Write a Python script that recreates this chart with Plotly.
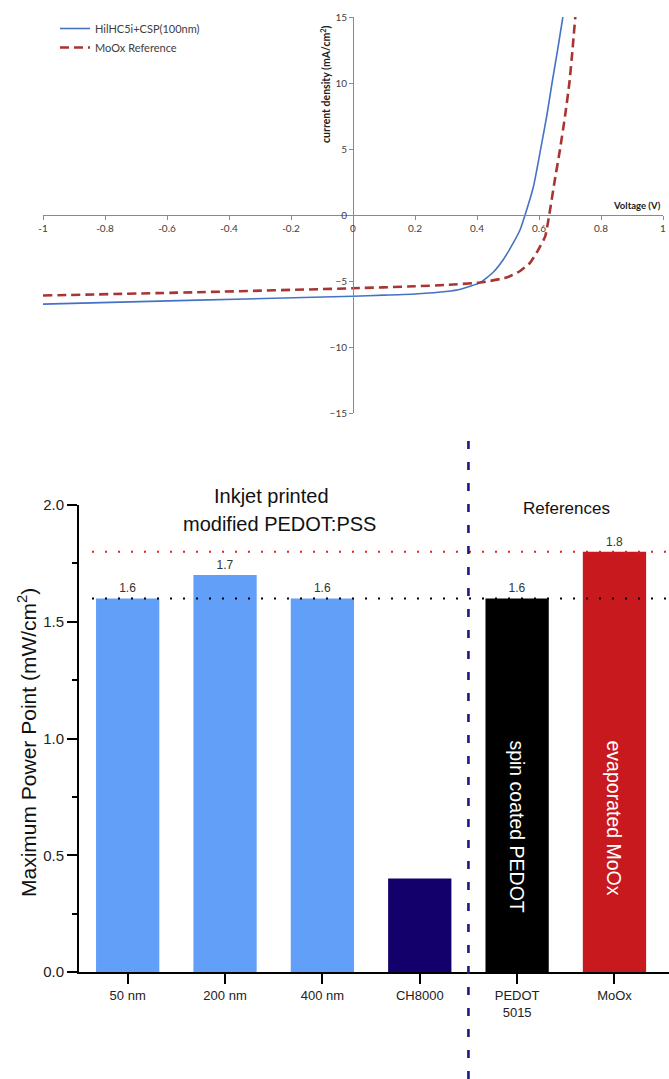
import plotly.graph_objects as go

W, H = 669, 1079


def px_x(p):
    return p / W


def px_y(p):
    return 1 - p / H


# ---------------- Top chart: J-V curves ----------------
blue_name = "HilHC5i+CSP(100nm)"
blue_v = [-1.0, -0.5, 0.0, 0.1, 0.2, 0.3, 0.35, 0.41, 0.453, 0.485, 0.517, 0.539,
          0.555, 0.582, 0.605, 0.625, 0.642, 0.66, 0.677]
blue_j = [-6.75, -6.45, -6.15, -6.07, -5.98, -5.8, -5.6, -5.12, -4.32, -3.37, -2.12,
          -1.12, 0.0, 2.14, 4.95, 7.5, 10.0, 12.5, 15.0]

red_name = "MoOx Reference"
red_v = [-1.0, -0.5, 0.0, 0.2, 0.3, 0.41, 0.495, 0.539, 0.571, 0.598, 0.62, 0.633,
         0.65, 0.668, 0.684, 0.698, 0.708, 0.717]
red_j = [-6.1, -5.85, -5.55, -5.4, -5.3, -5.12, -4.74, -4.24, -3.62, -2.62, -1.62, 0.0,
         2.5, 5.0, 7.5, 10.0, 12.5, 15.0]

top_xticks = [-1, -0.8, -0.6, -0.4, -0.2, 0, 0.2, 0.4, 0.6, 0.8, 1]
top_xticklabels = ["-1", "-0.8", "-0.6", "-0.4", "-0.2", "0", "0.2", "0.4", "0.6", "0.8", "1"]
top_yticks = [-15, -10, -5, 0, 5, 10, 15]

# ---------------- Bottom chart: maximum power point ----------------
categories = ["50 nm", "200 nm", "400 nm", "CH8000", "PEDOT<br>5015", "MoOx"]
mpp_values = [1.6, 1.7, 1.6, 0.4, 1.6, 1.8]
value_labels = ["1.6", "1.7", "1.6", "", "1.6", "1.8"]
bar_colors = ["#619ff8", "#619ff8", "#619ff8", "#13006b", "#000000", "#c8191e"]
inside_labels = {4: "spin coated PEDOT", 5: "evaporated MoOx"}
ref_lines = [(1.8, "#e82020"), (1.6, "#000000")]
bottom_yticks = [0.0, 0.5, 1.0, 1.5, 2.0]

fig = go.Figure()

fig.add_trace(go.Scatter(x=blue_v, y=blue_j, mode="lines", name=blue_name,
                         line=dict(color="#4472c4", width=1.6, shape="spline", smoothing=0.5),
                         xaxis="x", yaxis="y"))
fig.add_trace(go.Scatter(x=red_v, y=red_j, mode="lines", name=red_name,
                         line=dict(color="#a83434", width=2.6, dash="9px,5px", shape="spline", smoothing=0.5),
                         xaxis="x", yaxis="y"))

x_pos = list(range(len(categories)))
fig.add_trace(go.Bar(x=x_pos, y=mpp_values, marker=dict(color=bar_colors, line=dict(width=0)),
                     width=0.65, text=value_labels, textposition="outside",
                     textfont=dict(family="Liberation Sans", size=12, color="#333333"),
                     cliponaxis=False, showlegend=False, xaxis="x2", yaxis="y2"))

top_dom_x = [px_x(43), px_x(663)]
top_dom_y = [px_y(413), px_y(17)]
bot_dom_x = [px_x(79), 1.0]
bot_dom_y = [px_y(972), px_y(505)]

gray = "#8a8a8a"
tickfont_top = dict(family="Lato", size=10, color="#404040")

fig.update_layout(
    width=W, height=H,
    margin=dict(l=0, r=0, t=0, b=0),
    paper_bgcolor="white", plot_bgcolor="white",
    showlegend=True,
    legend=dict(x=px_x(55), y=px_y(14), xanchor="left", yanchor="top",
                bgcolor="rgba(0,0,0,0)", font=dict(family="Lato", size=11, color="#404040"),
                tracegroupgap=0),
    xaxis=dict(domain=top_dom_x, range=[-1, 1], anchor="free",
               position=px_y(215),
               tickvals=top_xticks, ticktext=top_xticklabels,
               showgrid=False, zeroline=False, showline=True, linecolor=gray, linewidth=1,
               ticks="outside", ticklen=4, tickcolor=gray, tickfont=tickfont_top,
               ticklabeloverflow="allow",
               automargin=False, fixedrange=True),
    yaxis=dict(domain=top_dom_y, range=[-15, 15], anchor="free",
               position=px_x(353),
               tickvals=top_yticks,
               showgrid=False, zeroline=False, showline=True, linecolor=gray, linewidth=1,
               ticks="outside", ticklen=4, tickcolor=gray, tickfont=tickfont_top,
               ticklabeloverflow="allow",
               automargin=False, fixedrange=True),
    xaxis2=dict(domain=bot_dom_x, range=[-0.5, 5.56], anchor="y2",
                tickvals=x_pos, ticktext=categories,
                showgrid=False, zeroline=False, showline=True, linecolor="black", linewidth=2,
                ticks="outside", ticklen=10, tickwidth=2, tickcolor="black",
                ticklabelstandoff=0,
                tickfont=dict(family="Liberation Sans", size=13, color="#222222"),
                automargin=False, fixedrange=True),
    yaxis2=dict(domain=bot_dom_y, range=[0, 2.0], anchor="x2",
                tickvals=bottom_yticks, ticktext=[f"{v:.1f}" for v in bottom_yticks],
                showgrid=False, zeroline=False, showline=True, linecolor="black", linewidth=2,
                ticks="outside", ticklen=10, tickwidth=2, tickcolor="black",
                minor=dict(dtick=0.25, ticks="outside", ticklen=5, tickwidth=2, tickcolor="black"),
                tickfont=dict(family="Liberation Sans", size=15, color="#222222"),
                automargin=False, fixedrange=True),
)

# Reference dotted lines
for yv, col in ref_lines:
    fig.add_shape(type="line", xref="paper", yref="y2", x0=px_x(92), x1=1.0, y0=yv, y1=yv,
                  line=dict(color=col, width=2, dash="2px,11px"), layer="above")

# Vertical dashed separator
fig.add_shape(type="line", xref="x2", yref="paper", x0=3.5, x1=3.5,
              y0=0, y1=px_y(430),
              line=dict(color="#1a1a84", width=2.6, dash="8px,13px"), layer="above")

# Axis titles / annotations
fig.add_annotation(text="<b>current density (mA/cm<sup>2</sup>)</b>", xref="paper", yref="paper",
                   x=px_x(325), y=px_y(84), xanchor="center", yanchor="middle",
                   textangle=-90, showarrow=False,
                   font=dict(family="Lato", size=10.5, color="#202020"))
fig.add_annotation(text="<b>Voltage (V)</b>", xref="paper", yref="paper",
                   x=px_x(637), y=px_y(205), xanchor="center", yanchor="middle", showarrow=False,
                   font=dict(family="Lato", size=9.5, color="#202020"))

fig.add_annotation(text="Maximum Power Point (mW/cm<sup>2</sup>)", xref="paper", yref="paper",
                   x=px_x(27), y=px_y(743), xanchor="center", yanchor="middle",
                   textangle=-90, showarrow=False,
                   font=dict(family="Liberation Sans", size=21, color="#111111"))
fig.add_annotation(text="Inkjet printed", xref="paper", yref="paper", x=px_x(271), y=px_y(496),
                   xanchor="center", yanchor="middle",
                   showarrow=False, font=dict(family="Liberation Sans", size=20, color="#111111"))
fig.add_annotation(text="modified PEDOT:PSS", xref="paper", yref="paper", x=px_x(279), y=px_y(524),
                   xanchor="center", yanchor="middle",
                   showarrow=False, font=dict(family="Liberation Sans", size=20, color="#111111"))
fig.add_annotation(text="References", xref="paper", yref="paper", x=px_x(566), y=px_y(508),
                   xanchor="center", yanchor="middle",
                   showarrow=False, font=dict(family="Liberation Sans", size=17, color="#111111"))

for idx, lab in inside_labels.items():
    fig.add_annotation(text=lab, xref="x2", yref="y2", x=x_pos[idx], y=1.0,
                       xanchor="center", yanchor="top", textangle=90, showarrow=False,
                       font=dict(family="Liberation Sans", size=19.5, color="white"))

# Remove the default page margin so the 669x1079 figure fills the window exactly.
fig.write_html("out.html",
               config={"displayModeBar": False},
               post_script="document.body.style.margin='0';document.body.style.overflow='hidden';")
